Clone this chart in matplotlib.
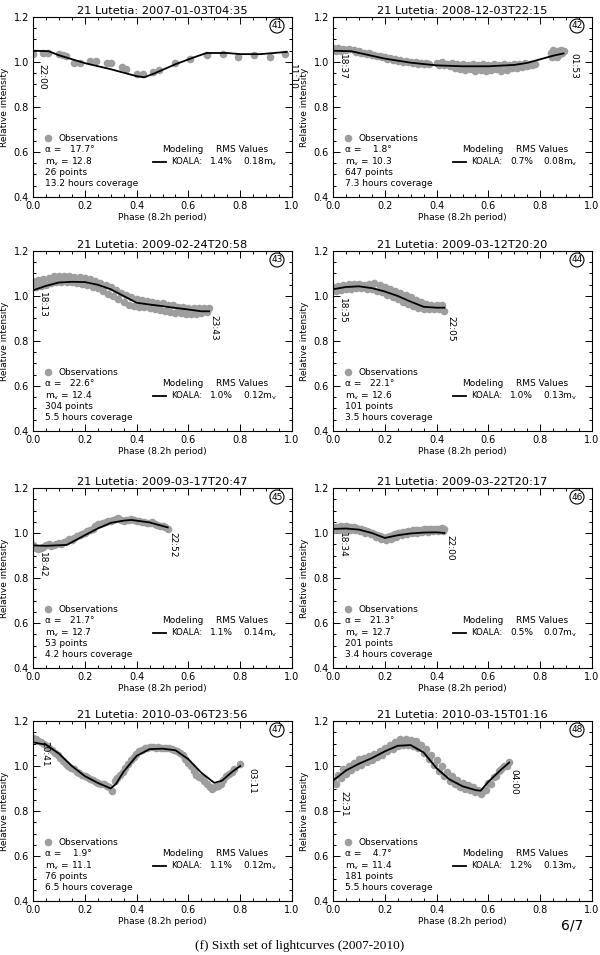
import matplotlib
matplotlib.use("Agg")
import matplotlib.pyplot as plt
from matplotlib.ticker import MultipleLocator

plt.rcParams["font.family"] = ["DejaVu Sans"]

# ---- panel metadata ----
titles = [
    "21 Lutetia: 2007-01-03T04:35", "21 Lutetia: 2008-12-03T22:15",
    "21 Lutetia: 2009-02-24T20:58", "21 Lutetia: 2009-03-12T20:20",
    "21 Lutetia: 2009-03-17T20:47", "21 Lutetia: 2009-03-22T20:17",
    "21 Lutetia: 2010-03-06T23:56", "21 Lutetia: 2010-03-15T01:16",
]
numbers = ["41", "42", "43", "44", "45", "46", "47", "48"]
alphas = ["17.7", "1.8", "22.6", "22.1", "21.7", "21.3", "1.9", "4.7"]
mags = ["12.8", "10.3", "12.4", "12.6", "12.7", "12.7", "11.1", "11.4"]
npoints = ["26", "647", "304", "101", "53", "201", "76", "181"]
coverage = ["13.2", "7.3", "5.5", "3.5", "4.2", "3.4", "6.5", "5.5"]
rms_pct = ["1.4%", "0.7%", "1.0%", "1.0%", "1.1%", "0.5%", "1.1%", "1.2%"]
rms_mag = ["0.18", "0.08", "0.12", "0.13", "0.14", "0.07", "0.12", "0.13"]
start_times = ["22:00", "18:37", "18:13", "18:35", "18:42", "18:34", "20:41", "22:31"]
end_times = ["11:10", "01:53", "23:43", "22:05", "22:52", "22:00", "03:11", "04:00"]
# label anchor positions (phase, top of text in intensity)
start_pos = [(0.035, 0.99), (0.035, 1.035), (0.035, 1.02), (0.035, 0.99),
             (0.035, 0.915), (0.035, 1.005), (0.045, 1.11), (0.04, 0.89)]
end_pos = [(1.0, 0.99), (0.93, 1.04), (0.70, 0.915), (0.455, 0.91),
           (0.54, 1.005), (0.45, 0.99), (0.845, 0.99), (0.70, 0.985)]

# ---- observations ----
obs1_x = [0.000, 0.039, 0.058, 0.100, 0.116, 0.126, 0.157, 0.180, 0.219, 0.245,
          0.284, 0.303, 0.342, 0.361, 0.400, 0.426, 0.465, 0.488, 0.548, 0.606,
          0.671, 0.733, 0.790, 0.854, 0.916, 0.974]
obs1_y = [1.037, 1.042, 1.040, 1.037, 1.030, 1.028, 0.996, 0.996, 1.003, 1.003,
          0.996, 0.996, 0.978, 0.968, 0.948, 0.948, 0.955, 0.963, 0.996, 1.015,
          1.030, 1.034, 1.022, 1.033, 1.022, 1.034]

obs2_x = [0.00, 0.01, 0.02, 0.03, 0.04, 0.05, 0.06,
          0.08, 0.09, 0.10, 0.11, 0.12, 0.13, 0.14, 0.15, 0.16, 0.17, 0.18, 0.19,
          0.20, 0.21, 0.22, 0.23, 0.24, 0.25, 0.26, 0.27, 0.28, 0.29, 0.30, 0.31,
          0.32, 0.33, 0.34, 0.35, 0.36, 0.37,
          0.40, 0.41, 0.42, 0.43, 0.44, 0.45, 0.46, 0.47, 0.48, 0.49, 0.50, 0.51,
          0.52, 0.53, 0.54, 0.55, 0.56, 0.57, 0.58, 0.59, 0.60, 0.61, 0.62, 0.63,
          0.64, 0.65, 0.66, 0.67, 0.68, 0.69, 0.70, 0.71, 0.72, 0.73, 0.74, 0.75,
          0.76, 0.77, 0.78,
          0.840, 0.845, 0.850, 0.855, 0.860, 0.865, 0.870, 0.875, 0.880, 0.885, 0.890]
obs2_y = [1.060, 1.050, 1.062, 1.048, 1.058, 1.052, 1.056,
          1.052, 1.045, 1.048, 1.040, 1.042, 1.035, 1.038, 1.030, 1.032, 1.025, 1.028, 1.020,
          1.022, 1.015, 1.018, 1.010, 1.014, 1.006, 1.010, 1.002, 1.006, 0.998, 1.002, 0.995,
          0.999, 0.993, 0.997, 0.990, 0.994, 0.990,
          0.995, 0.985, 0.998, 0.988, 0.992, 0.980, 0.995, 0.975, 0.990, 0.970, 0.992, 0.965,
          0.985, 0.968, 0.990, 0.962, 0.985, 0.965, 0.990, 0.962, 0.988, 0.965, 0.992, 0.968,
          0.985, 0.960, 0.990, 0.965, 0.985, 0.975, 0.992, 0.972, 0.990, 0.978, 0.995, 0.982,
          0.990, 0.985, 0.992,
          1.040, 1.020, 1.055, 1.030, 1.045, 1.020, 1.050, 1.035, 1.055, 1.040, 1.050]

obs3_x = [0.00, 0.02, 0.04, 0.06, 0.08, 0.10, 0.12, 0.14, 0.16, 0.18, 0.20, 0.22,
          0.24, 0.26, 0.28, 0.30, 0.32, 0.34, 0.36, 0.38, 0.40, 0.42, 0.44, 0.46,
          0.48, 0.50, 0.52, 0.54, 0.56, 0.58, 0.60, 0.62, 0.64, 0.66, 0.68,
          0.01, 0.03, 0.05, 0.07, 0.09, 0.11, 0.13, 0.15, 0.17, 0.19, 0.21, 0.23,
          0.25, 0.27, 0.29, 0.31, 0.33, 0.35, 0.37, 0.39, 0.41, 0.43, 0.45, 0.47,
          0.49, 0.51, 0.53, 0.55, 0.57, 0.59, 0.61, 0.63, 0.65, 0.67]
obs3_y = [1.068, 1.070, 1.075, 1.080, 1.088, 1.090, 1.088, 1.088, 1.086, 1.084, 1.080, 1.076,
          1.068, 1.058, 1.048, 1.040, 1.028, 1.014, 1.004, 0.994, 0.986, 0.982, 0.978, 0.975,
          0.970, 0.968, 0.962, 0.958, 0.952, 0.950, 0.948, 0.946, 0.945, 0.948, 0.945,
          1.040, 1.044, 1.050, 1.056, 1.060, 1.062, 1.060, 1.060, 1.058, 1.054, 1.050, 1.042,
          1.034, 1.022, 1.010, 0.998, 0.986, 0.974, 0.962, 0.956, 0.952, 0.950, 0.945, 0.942,
          0.938, 0.935, 0.930, 0.926, 0.924, 0.922, 0.920, 0.922, 0.925, 0.930]

obs4_x = [0.00, 0.02, 0.04, 0.06, 0.08, 0.10, 0.12, 0.14, 0.16, 0.18, 0.20, 0.22,
          0.24, 0.26, 0.28, 0.30, 0.32, 0.34, 0.36, 0.38, 0.40, 0.42,
          0.01, 0.03, 0.05, 0.07, 0.09, 0.11, 0.13, 0.15, 0.17, 0.19, 0.21, 0.23,
          0.25, 0.27, 0.29, 0.31, 0.33, 0.35, 0.37, 0.39, 0.41, 0.43]
obs4_y = [1.040, 1.044, 1.050, 1.052, 1.054, 1.052, 1.050, 1.054, 1.058, 1.048, 1.040, 1.032,
          1.024, 1.014, 1.004, 0.994, 0.984, 0.972, 0.964, 0.962, 0.962, 0.958,
          1.022, 1.026, 1.030, 1.032, 1.034, 1.034, 1.032, 1.030, 1.024, 1.016, 1.006, 0.996,
          0.986, 0.975, 0.964, 0.954, 0.946, 0.940, 0.940, 0.942, 0.940, 0.932]

obs5_x = [0.00, 0.01, 0.02, 0.03, 0.04, 0.05, 0.06, 0.07, 0.08, 0.09, 0.10, 0.11,
          0.12, 0.13, 0.14, 0.15, 0.16, 0.17, 0.18, 0.19, 0.20, 0.21, 0.22, 0.23,
          0.24, 0.25, 0.26, 0.27, 0.28, 0.29, 0.30, 0.31, 0.32, 0.33, 0.34, 0.35,
          0.36, 0.37, 0.38, 0.39, 0.40, 0.41, 0.42, 0.43, 0.44, 0.45, 0.46, 0.47,
          0.48, 0.49, 0.50, 0.51, 0.52]
obs5_y = [0.945, 0.935, 0.930, 0.932, 0.940, 0.945, 0.950, 0.944, 0.948, 0.952, 0.955, 0.950,
          0.960, 0.965, 0.972, 0.968, 0.978, 0.985, 0.990, 0.995, 1.000, 1.008, 1.012, 1.018,
          1.030, 1.038, 1.042, 1.045, 1.050, 1.052, 1.055, 1.058, 1.062, 1.068, 1.060, 1.055,
          1.058, 1.060, 1.062, 1.058, 1.055, 1.052, 1.050, 1.048, 1.045, 1.044, 1.048, 1.040,
          1.035, 1.032, 1.030, 1.025, 1.020]

obs6_x = [0.00, 0.01, 0.02, 0.03, 0.04, 0.05, 0.06, 0.07, 0.08, 0.09, 0.10, 0.11,
          0.12, 0.13, 0.14, 0.15, 0.16, 0.17, 0.18, 0.19, 0.20, 0.21, 0.22, 0.23,
          0.24, 0.25, 0.26, 0.27, 0.28, 0.29, 0.30, 0.31, 0.32, 0.33, 0.34, 0.35,
          0.36, 0.37, 0.38, 0.39, 0.40, 0.41, 0.42, 0.43,
          0.005, 0.025, 0.045, 0.065, 0.085, 0.105, 0.125, 0.145, 0.165, 0.185, 0.205,
          0.225, 0.245, 0.265, 0.285, 0.305, 0.325, 0.345, 0.365, 0.385, 0.405, 0.425]
obs6_y = [1.025, 1.028, 1.026, 1.030, 1.028, 1.030, 1.028, 1.026, 1.025, 1.022, 1.020, 1.018,
          1.014, 1.010, 1.004, 1.000, 0.996, 0.990, 0.985, 0.982, 0.980, 0.982, 0.986, 0.990,
          0.994, 0.998, 1.000, 1.004, 1.006, 1.008, 1.010, 1.012, 1.012, 1.014, 1.015, 1.016,
          1.016, 1.018, 1.018, 1.020, 1.018, 1.020, 1.022, 1.018,
          1.012, 1.014, 1.012, 1.014, 1.012, 1.008, 1.002, 0.994, 0.984, 0.975, 0.970,
          0.975, 0.984, 0.990, 0.996, 1.000, 1.002, 1.005, 1.006, 1.008, 1.008, 1.010]

obs7_x = [0.000, 0.011, 0.021, 0.032, 0.042, 0.053, 0.063, 0.074, 0.084, 0.095,
          0.105, 0.116, 0.126, 0.137, 0.147, 0.158, 0.168, 0.179, 0.189, 0.200,
          0.210, 0.221, 0.231, 0.242, 0.252, 0.263, 0.273, 0.284, 0.294, 0.305,
          0.315, 0.326, 0.336, 0.347, 0.357, 0.368, 0.378, 0.389, 0.399, 0.410,
          0.420, 0.431, 0.441, 0.452, 0.462, 0.473, 0.483, 0.494, 0.504, 0.515,
          0.525, 0.536, 0.546, 0.557, 0.567, 0.578, 0.588, 0.599, 0.609, 0.620,
          0.630, 0.641, 0.651, 0.662, 0.672, 0.683, 0.693, 0.704, 0.714, 0.725,
          0.735, 0.746, 0.756, 0.767, 0.777, 0.800]
obs7_y = [1.125, 1.118, 1.112, 1.105, 1.098, 1.090, 1.082, 1.072, 1.060, 1.048,
          1.036, 1.022, 1.010, 1.000, 0.990, 0.985, 0.975, 0.968, 0.962, 0.955,
          0.950, 0.944, 0.938, 0.930, 0.925, 0.922, 0.920, 0.912, 0.905, 0.890,
          0.935, 0.945, 0.962, 0.975, 0.990, 1.008, 1.025, 1.040, 1.055, 1.065,
          1.072, 1.078, 1.082, 1.085, 1.086, 1.082, 1.085, 1.082, 1.080, 1.082,
          1.078, 1.076, 1.072, 1.068, 1.060, 1.048, 1.032, 1.015, 0.998, 0.980,
          0.962, 0.952, 0.945, 0.935, 0.920, 0.905, 0.900, 0.905, 0.912, 0.922,
          0.940, 0.955, 0.965, 0.975, 0.988, 1.010]

obs8_x = [0.00, 0.02, 0.04, 0.06, 0.08, 0.10, 0.12, 0.14, 0.16, 0.18, 0.20, 0.22,
          0.24, 0.26, 0.28, 0.30, 0.32, 0.34, 0.36, 0.38, 0.40, 0.42, 0.44, 0.46,
          0.48, 0.50, 0.52, 0.54, 0.56, 0.58, 0.60, 0.62, 0.64, 0.66, 0.68,
          0.01, 0.03, 0.05, 0.07, 0.09, 0.11, 0.13, 0.15, 0.17, 0.19, 0.21, 0.23,
          0.25, 0.27, 0.29, 0.31, 0.33, 0.35, 0.37, 0.39, 0.41, 0.43, 0.45, 0.47,
          0.49, 0.51, 0.53, 0.55, 0.57, 0.59, 0.61, 0.63, 0.65, 0.67]
obs8_y = [0.940, 0.960, 0.985, 1.000, 1.015, 1.030, 1.035, 1.045, 1.052, 1.065, 1.080, 1.092,
          1.108, 1.118, 1.120, 1.115, 1.110, 1.095, 1.075, 1.050, 1.025, 0.998, 0.975, 0.955,
          0.940, 0.925, 0.915, 0.905, 0.895, 0.890, 0.925, 0.950, 0.980, 1.000, 1.020,
          0.918, 0.945, 0.965, 0.982, 0.995, 1.005, 1.018, 1.025, 1.038, 1.050, 1.065, 1.075,
          1.088, 1.092, 1.095, 1.090, 1.078, 1.058, 1.032, 1.005, 0.980, 0.955, 0.935, 0.920,
          0.905, 0.898, 0.895, 0.885, 0.875, 0.895, 0.920, 0.955, 0.985, 1.000]

# ---- KOALA model curves ----
mod1_x = [0.00, 0.06, 0.10, 0.20, 0.30, 0.40, 0.43, 0.47, 0.55, 0.62, 0.67, 0.75, 0.80, 0.88, 0.98]
mod1_y = [1.050, 1.048, 1.030, 0.995, 0.968, 0.937, 0.932, 0.950, 0.990, 1.020, 1.040, 1.040, 1.035, 1.035, 1.045]
mod2_x = [0.00, 0.07, 0.20, 0.30, 0.40, 0.50, 0.60, 0.70, 0.75, 0.80, 0.85, 0.89]
mod2_y = [1.050, 1.048, 1.015, 0.997, 0.985, 0.981, 0.981, 0.987, 0.996, 1.012, 1.028, 1.038]
mod3_x = [0.00, 0.05, 0.10, 0.15, 0.20, 0.25, 0.30, 0.35, 0.40, 0.45, 0.50, 0.55, 0.60, 0.65, 0.68]
mod3_y = [1.025, 1.045, 1.060, 1.063, 1.062, 1.050, 1.030, 1.000, 0.970, 0.962, 0.955, 0.947, 0.940, 0.932, 0.932]
mod4_x = [0.00, 0.05, 0.10, 0.15, 0.20, 0.25, 0.30, 0.35, 0.40, 0.43]
mod4_y = [1.030, 1.040, 1.043, 1.035, 1.020, 1.000, 0.975, 0.952, 0.948, 0.948]
mod5_x = [0.00, 0.05, 0.13, 0.20, 0.25, 0.30, 0.35, 0.38, 0.45, 0.52]
mod5_y = [0.945, 0.943, 0.947, 0.990, 1.020, 1.045, 1.055, 1.058, 1.047, 1.025]
mod6_x = [0.00, 0.05, 0.10, 0.15, 0.20, 0.25, 0.30, 0.35, 0.40, 0.43]
mod6_y = [1.018, 1.020, 1.015, 1.000, 0.978, 0.990, 0.998, 1.002, 1.003, 1.000]
mod7_x = [0.00, 0.05, 0.10, 0.15, 0.20, 0.25, 0.30, 0.32, 0.35, 0.40, 0.45, 0.50,
          0.55, 0.60, 0.65, 0.70, 0.73, 0.77, 0.80]
mod7_y = [1.105, 1.095, 1.055, 1.000, 0.955, 0.925, 0.900, 0.920, 0.975, 1.045, 1.075, 1.077,
          1.070, 1.030, 0.970, 0.925, 0.935, 0.975, 1.000]
mod8_x = [0.00, 0.05, 0.10, 0.15, 0.20, 0.25, 0.30, 0.35, 0.40, 0.45, 0.50, 0.55, 0.57,
          0.60, 0.65, 0.68]
mod8_y = [0.935, 0.980, 1.010, 1.035, 1.065, 1.090, 1.093, 1.060, 0.990, 0.940, 0.910, 0.893,
          0.890, 0.930, 0.985, 1.015]

obs_x = [obs1_x, obs2_x, obs3_x, obs4_x, obs5_x, obs6_x, obs7_x, obs8_x]
obs_y = [obs1_y, obs2_y, obs3_y, obs4_y, obs5_y, obs6_y, obs7_y, obs8_y]
mod_x = [mod1_x, mod2_x, mod3_x, mod4_x, mod5_x, mod6_x, mod7_x, mod8_x]
mod_y = [mod1_y, mod2_y, mod3_y, mod4_y, mod5_y, mod6_y, mod7_y, mod8_y]

W, H = 600, 955
fig = plt.figure(figsize=(W / 100, H / 100), dpi=100)

lefts = [33, 333]
tops = [17, 251, 488, 721]
aw, ah = 259, 180

grey = "#9e9e9e"
fs = 6.5

for i in range(8):
    row, col = divmod(i, 2)
    ax = fig.add_axes([lefts[col] / W, 1 - (tops[row] + ah) / H, aw / W, ah / H])
    ax.set_xlim(0, 1)
    ax.set_ylim(0.4, 1.2)
    ax.xaxis.set_major_locator(MultipleLocator(0.2))
    ax.xaxis.set_minor_locator(MultipleLocator(0.05))
    ax.yaxis.set_major_locator(MultipleLocator(0.2))
    ax.yaxis.set_minor_locator(MultipleLocator(0.05))
    ax.xaxis.set_major_formatter(plt.FormatStrFormatter("%.1f"))
    ax.yaxis.set_major_formatter(plt.FormatStrFormatter("%.1f"))
    ax.tick_params(which="both", direction="in", top=True, right=True,
                   labelsize=7, width=0.7, pad=3)
    ax.tick_params(which="major", length=5)
    ax.tick_params(which="minor", length=2.5)
    for s in ax.spines.values():
        s.set_linewidth(0.8)

    ax.scatter(obs_x[i], obs_y[i], s=30, color=grey, lw=0, zorder=2)
    ax.plot(mod_x[i], mod_y[i], color="black", lw=1.3, zorder=3)

    ax.set_title(titles[i], fontsize=8.2, pad=2.5)
    ax.set_xlabel("Phase (8.2h period)", fontsize=fs, labelpad=1)
    ax.set_ylabel("Relative intensity", fontsize=fs, labelpad=3)

    # circled panel number
    ax.text(0.942, 1.16, numbers[i], fontsize=6.5, ha="center", va="center",
            bbox=dict(boxstyle="circle,pad=0.15", fc="white", ec="black", lw=0.8))

    # start / end time labels
    ax.text(start_pos[i][0], start_pos[i][1], start_times[i], rotation=270,
            fontsize=fs, ha="center", va="top", zorder=4)
    ax.text(end_pos[i][0], end_pos[i][1], end_times[i], rotation=270,
            fontsize=fs, ha="center", va="top", zorder=4)

    # left info block
    ax.scatter([0.058], [0.662], s=30, color=grey, lw=0)
    ax.text(0.097, 0.662, "Observations", fontsize=fs, va="center")
    ax.text(0.046, 0.609, "α =  %5s°" % alphas[i], fontsize=fs, va="center")
    ax.text(0.046, 0.556, "m$_\\mathrm{v}$ = " + mags[i], fontsize=fs, va="center")
    ax.text(0.046, 0.507, npoints[i] + " points", fontsize=fs, va="center")
    ax.text(0.046, 0.458, coverage[i] + " hours coverage", fontsize=fs, va="center")

    # right model block
    ax.text(0.498, 0.609, "Modeling", fontsize=fs, va="center")
    ax.text(0.707, 0.609, "RMS Values", fontsize=fs, va="center")
    ax.plot([0.465, 0.512], [0.556, 0.556], color="black", lw=1.3)
    ax.text(0.532, 0.556, "KOALA:", fontsize=6.2, va="center")
    ax.text(0.685, 0.556, rms_pct[i], fontsize=fs, va="center")
    ax.text(0.81, 0.556, rms_mag[i] + "m$_\\mathrm{v}$", fontsize=fs, va="center")

fig.text(572 / W, 1 - 925 / H, "6/7", fontsize=10, ha="center", va="center")
fig.text(0.5, 1 - 946 / H, "(f) Sixth set of lightcurves (2007-2010)",
         fontsize=9.5, ha="center", va="center", family="Liberation Serif")

fig.savefig("out.png", dpi=100)
